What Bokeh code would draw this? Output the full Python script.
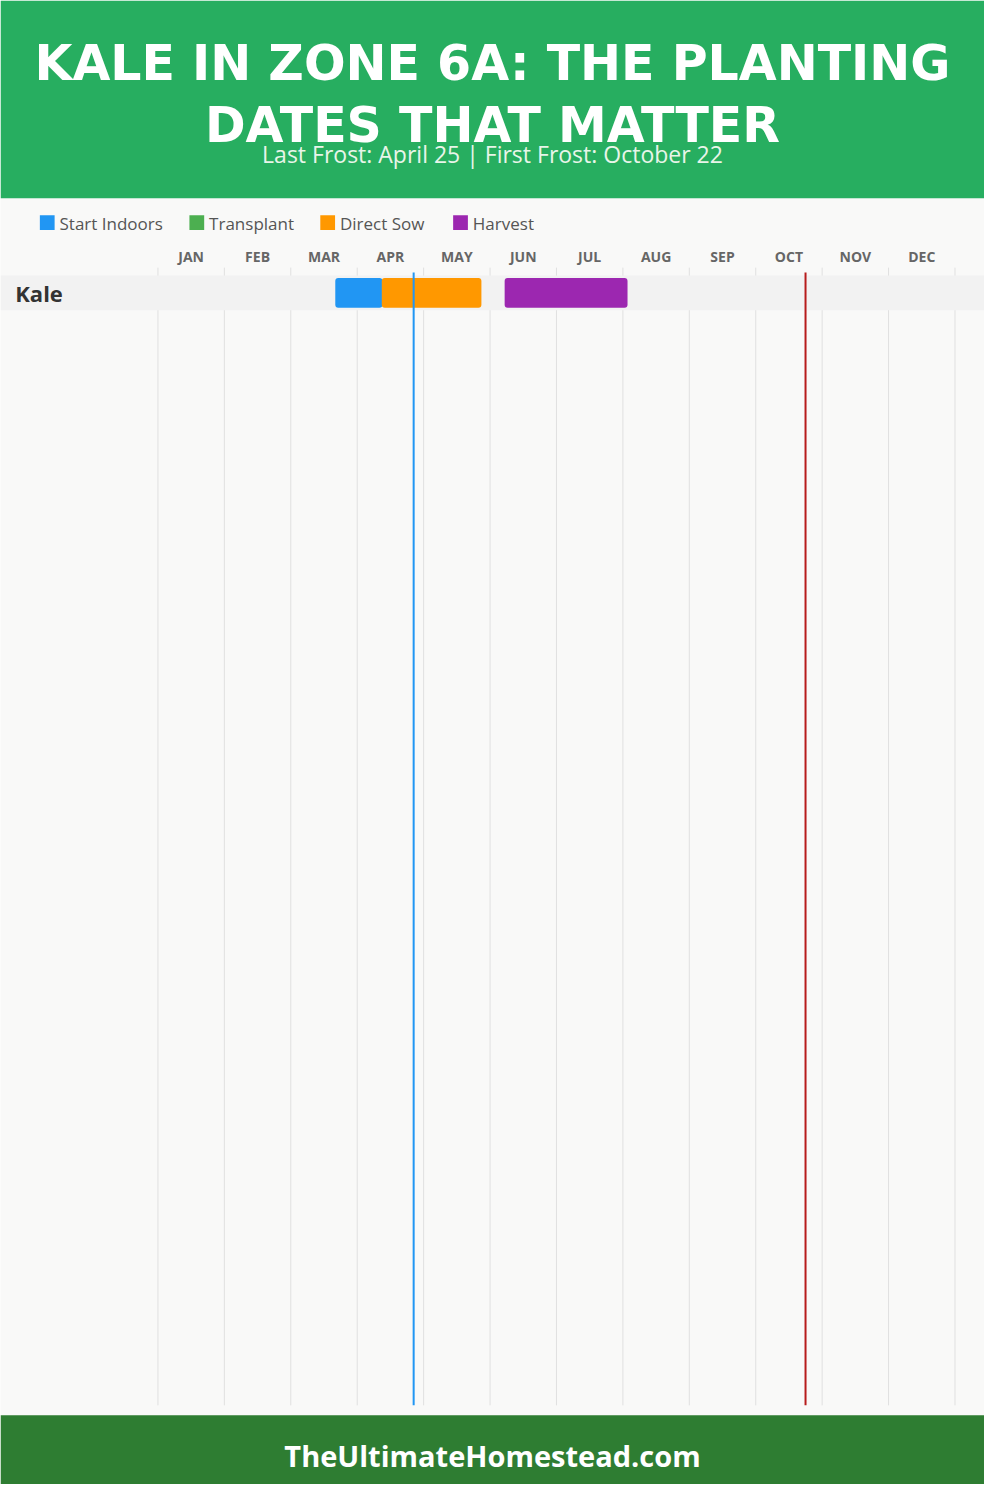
from bokeh.plotting import figure
from bokeh.models import Range1d
from bokeh.core.properties import value
from bokeh.embed import file_html
from bokeh.resources import INLINE

# ---- data ----
title_lines = ["KALE IN ZONE 6A: THE PLANTING", "DATES THAT MATTER"]
subtitle = "Last Frost: April 25 | First Frost: October 22"
footer = "TheUltimateHomestead.com"
months = ["JAN", "FEB", "MAR", "APR", "MAY", "JUN", "JUL", "AUG", "SEP", "OCT", "NOV", "DEC"]
crops = ["Kale"]
legend_names = ["Start Indoors", "Transplant", "Direct Sow", "Harvest"]
legend_colors = ["#2196F3", "#4CAF50", "#FF9800", "#9C27B0"]
# periods in month units (0 = Jan 1, 12 = Dec 31)
start_indoors = [(2.67, 3.38)]
direct_sow = [(3.37, 4.87)]
harvest = [(5.22, 7.07)]
last_frost = 3.85   # April 25
first_frost = 9.75  # October 22

# ---- layout helpers (reference pixel space: 1000 x 1500) ----
X0, X1 = -160 / 67.5, (1000 - 160) / 67.5
def px(x):
    return X0 + x / 1000.0 * (X1 - X0)

p = figure(width=984, height=1484, output_backend="svg", toolbar_location=None,
           x_range=Range1d(X0, X1), y_range=Range1d(1500, 0), min_border=0)
p.axis.visible = False
p.grid.visible = False
p.outline_line_color = None
p.background_fill_color = "#F9F9F8"
p.border_fill_color = "#FFFFFF"

# header / footer
p.quad(left=[X0], right=[X1], top=[0], bottom=[200], fill_color="#27AE60", line_color=None)
p.quad(left=[X0], right=[X1], top=[1430], bottom=[1500], fill_color="#2E7D32", line_color=None)

for i, t in enumerate(title_lines):
    p.text(x=[px(500)], y=[64 + 62 * i], text=[t], text_align="center", text_baseline="middle",
           text_font=value("DejaVu Sans"), text_font_style="bold", text_font_size="49px",
           text_color="#FFFFFF")
p.text(x=[px(500)], y=[155], text=[subtitle], text_align="center", text_baseline="middle",
       text_font=value("Open Sans"), text_font_size="23px", text_color="#E8F5E9")
p.text(x=[px(500)], y=[1471], text=[footer], text_align="center", text_baseline="middle",
       text_font=value("Open Sans"), text_font_style="bold", text_font_size="29px",
       text_color="#FFFFFF")

# legend
leg_x = [40, 192, 325, 460]
for lx, name, col in zip(leg_x, legend_names, legend_colors):
    p.quad(left=[px(lx)], right=[px(lx + 15)], top=[217], bottom=[232], fill_color=col, line_color=None)
    p.text(x=[px(lx + 20)], y=[225], text=[name], text_align="left", text_baseline="middle",
           text_font=value("Open Sans"), text_font_size="17px", text_color="#555555")

# month labels and gridlines
p.text(x=[m + 0.5 for m in range(12)], y=[259] * 12, text=months, text_align="center",
       text_baseline="middle", text_font=value("Open Sans"), text_font_style="bold",
       text_font_size="14px", text_color="#666666")
p.segment(x0=list(range(13)), x1=list(range(13)), y0=[270] * 13, y1=[1420] * 13,
          line_color="#E0E0E0", line_width=1)

# crop rows
for i, c in enumerate(crops):
    yc = 295.5 + 40 * i
    p.quad(left=[X0], right=[X1], top=[yc - 17.5], bottom=[yc + 17.5], fill_color="#F2F2F2", line_color=None)
    p.text(x=[px(15)], y=[yc], text=[c], text_align="left", text_baseline="middle",
           text_font=value("Open Sans"), text_font_style="bold", text_font_size="22px",
           text_color="#333333")
    for periods, col in ((start_indoors, "#2196F3"), (direct_sow, "#FF9800"), (harvest, "#9C27B0")):
        s, e = periods[i]
        p.hbar(y=[yc], left=[s], right=[e], height=30, fill_color=col, line_color=None,
               border_radius=3)

# frost lines
p.segment(x0=[last_frost], x1=[last_frost], y0=[275], y1=[1420], line_color="#2196F3", line_width=2)
p.segment(x0=[first_frost], x1=[first_frost], y0=[275], y1=[1420], line_color="#B71C1C", line_width=2)

open("out.html", "w").write(file_html(p, INLINE))
